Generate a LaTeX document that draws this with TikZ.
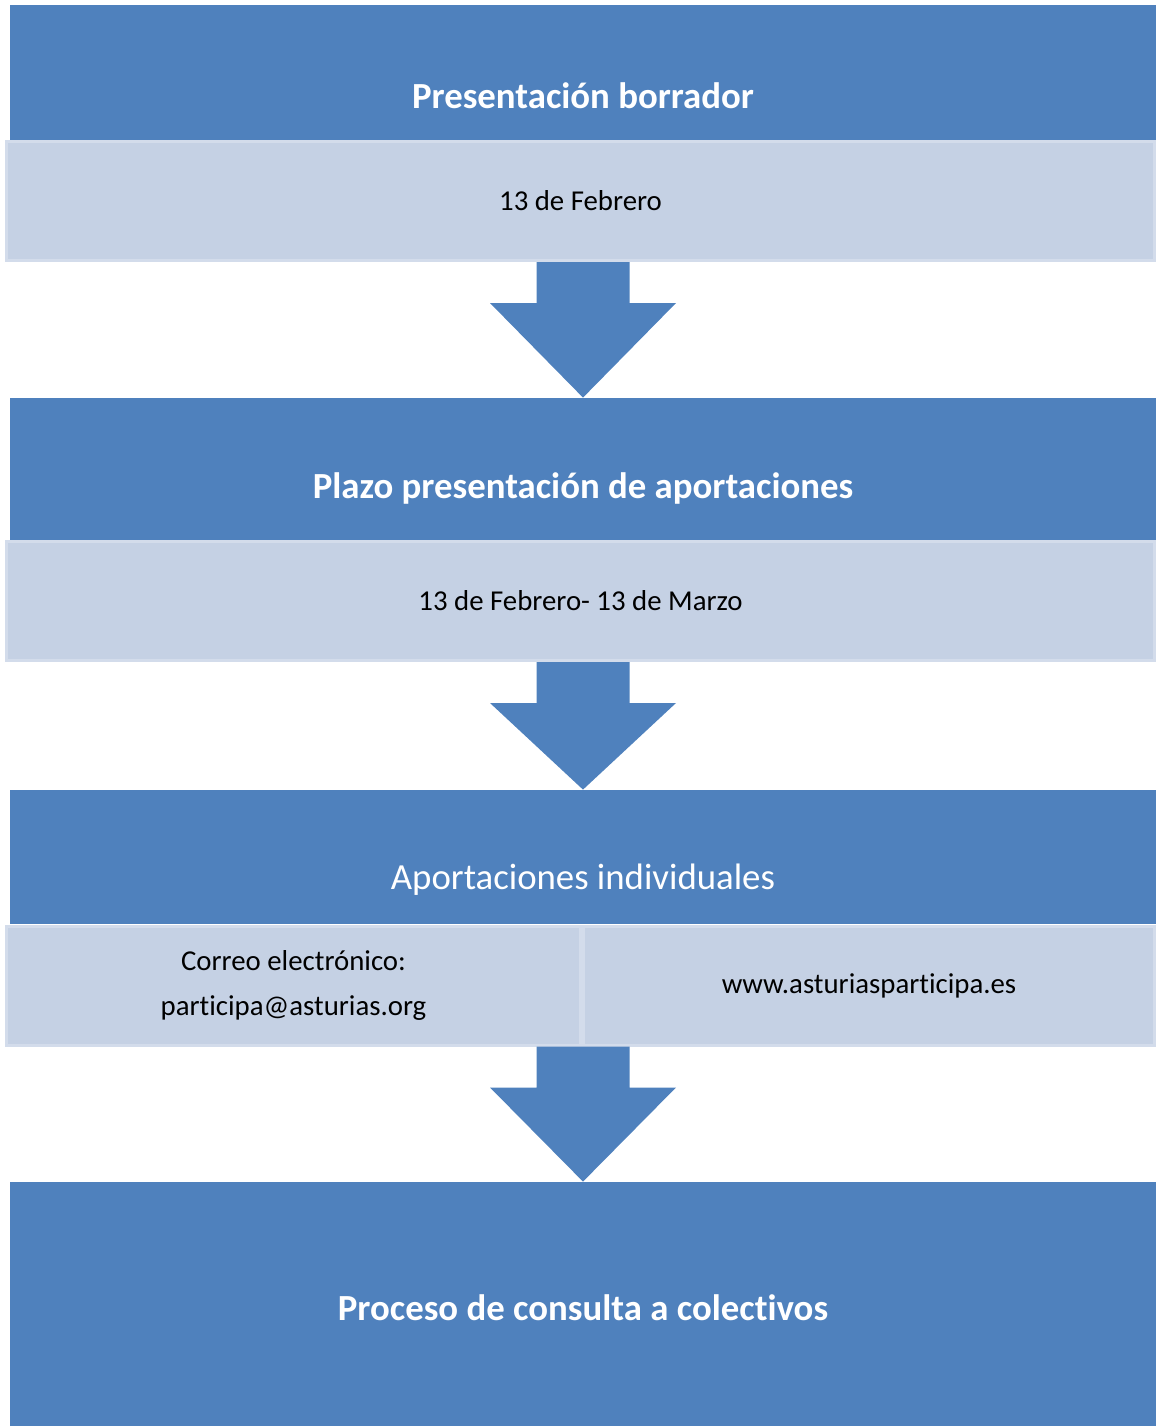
\documentclass[tikz,border=0pt]{standalone}
\usepackage{fontspec}
\setmainfont{Carlito}[RawFeature={-liga;-clig;-calt;-dlig;-rlig}]
\usepackage{xcolor}
\usetikzlibrary{calc}

\definecolor{bandblue}{HTML}{4F81BD}
\definecolor{paleblue}{HTML}{C5D1E4}
\definecolor{rimblue}{HTML}{D3DCEB}

% block arrow from a top centre to a tip
\newcommand{\blockarrow}[2]{%
  \fill[bandblue] ($(#1)+(-46.5,0)$) -- ($(#1)+(46.5,0)$)
    -- ($(#1)+(46.5,41)$) -- ($(#1)+(93,41)$) -- (#2)
    -- ($(#1)+(-93,41)$) -- ($(#1)+(-46.5,41)$) -- cycle;
}

\begin{document}
\begin{tikzpicture}[x=0.5pt, y=-0.5pt,
    band/.style={fill=bandblue, draw=none, minimum width=573pt, inner sep=0pt},
    datebox/.style={fill=paleblue, draw=rimblue, line width=1.5pt, inner sep=0pt,
      minimum height=59.5pt, font=\fontsize{14.4}{22.5}\selectfont, align=center},
    title/.style={text=white, font=\fontsize{18.4}{22}\selectfont\bfseries},
    subtitle/.style={text=white, font=\fontsize{18.4}{22}\selectfont}]

\useasboundingbox (0,0) rectangle (1156,1426);

% =====================
% Presentacion borrador
% =====================
\node[band, minimum height=67.5pt] (b1) at (583,72.5) {};
\node[title] (t1) at (583,96) {Presentación borrador};
\node[datebox, minimum width=574pt] (l1) at (580.5,201) {13 de Febrero};

% =====================
% Plazo
% =====================
\node[band, minimum height=71pt] (b2) at (583,469) {};
\node[title] (t2) at (583,488) {Plazo presentación de aportaciones};
\node[datebox, minimum width=574pt] (l2) at (580.5,601) {13 de Febrero- 13 de Marzo};

% =====================
% Aportaciones individuales
% =====================
\node[band, minimum height=67pt] (b3) at (583,857) {};
\node[subtitle] (t3) at (583,880) {Aportaciones individuales};
\node[datebox, minimum width=287pt] (l3a) at (293.5,985.5)
    {Correo electrónico:\\participa@asturias.org};
\node[datebox, minimum width=285.5pt] (l3b) at (869,985.5)
    {www.asturiasparticipa.es};

% =====================
% Proceso de consulta
% =====================
\node[band, minimum height=122pt] (b4) at (583,1304) {};
\node[title] (t4) at (583,1308) {Proceso de consulta a colectivos};

% =====================
% Arrows
% =====================
\coordinate (a1) at (l1.south -| b2.north);
\coordinate (a2) at (l2.south -| b3.north);
\coordinate (a3) at (l3a.south -| b4.north);
\blockarrow{a1}{b2.north}
\blockarrow{a2}{b3.north}
\blockarrow{a3}{b4.north}

\end{tikzpicture}
\end{document}
